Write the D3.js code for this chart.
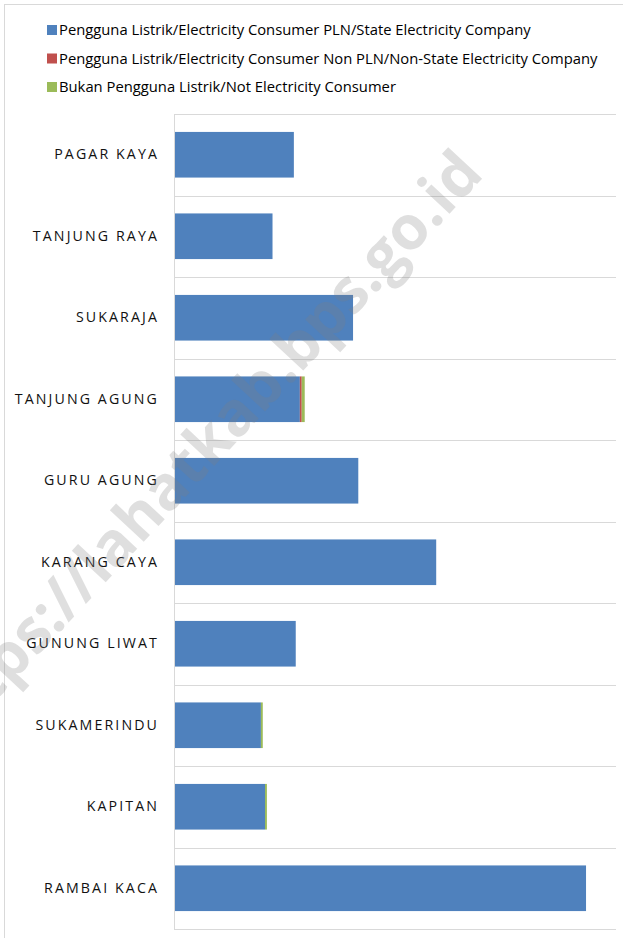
<!DOCTYPE html>
<meta charset="utf-8">
<style>
    body { margin: 0; background: #fff; }
    .axis path, .axis line { fill: none; stroke: #d9d9d9; shape-rendering: crispEdges; }
    .label { font-family: "Open Sans", sans-serif; font-size: 14.2px; letter-spacing: 2.1px; fill: #111; }
    .legend text { font-family: "Open Sans", sans-serif; font-size: 13px; fill: #000; }
</style>
<div class="chart"></div>
<script src="https://cdn.jsdelivr.net/npm/d3@7"></script>
<script>
    var villages = ['PAGAR KAYA', 'TANJUNG RAYA', 'SUKARAJA', 'TANJUNG AGUNG', 'GURU AGUNG',
                    'KARANG CAYA', 'GUNUNG LIWAT', 'SUKAMERINDU', 'KAPITAN', 'RAMBAI KACA'];
    var pln    = [320, 263, 478, 336, 492, 700, 325, 232, 243, 1100];
    var nonPln = [0, 0, 0, 5, 0, 0, 0, 0, 0, 0];
    var noElec = [0, 0, 0, 8, 0, 0, 0, 5, 5, 0];
    var seriesNames = ['Pengguna Listrik/Electricity Consumer PLN/State Electricity Company',
                       'Pengguna Listrik/Electricity Consumer Non PLN/Non-State Electricity Company',
                       'Bukan Pengguna Listrik/Not Electricity Consumer'];
    var colors = ['#4f81bd', '#c0504d', '#9bbb59'];
    var xMax = 1180;

    var W = 623, H = 938;
    var margin = {top: 114, right: 7, bottom: 9, left: 174};
    var width = W - margin.left - margin.right,
        height = H - margin.top - margin.bottom;

    var svg = d3.select('.chart').append('svg')
        .attr('width', W).attr('height', H);

    // outer chart frame
    svg.append('rect')
        .attr('x', 4.5).attr('y', 4.5)
        .attr('width', W + 20).attr('height', H + 20)
        .attr('fill', 'none').attr('stroke', '#d9d9d9');

    // legend
    var legend = svg.append('g').attr('class', 'legend');
    seriesNames.forEach(function(name, i) {
        var g = legend.append('g').attr('transform', 'translate(47,' + (30 + i * 28.5) + ')');
        g.append('rect').attr('x', 0).attr('y', -5).attr('width', 10).attr('height', 10)
            .attr('fill', colors[i]);
        g.append('text').attr('x', 12).attr('dy', '0.35em').text(name);
    });
    // fit the legend font to the original text width
    var firstText = legend.select('text').node();
    var fs = 13 * 472 / firstText.getComputedTextLength();
    legend.selectAll('text').style('font-size', fs + 'px');

    var data = villages.map(function(v, i) {
        return {village: v, pln: pln[i], nonPln: nonPln[i], noElec: noElec[i]};
    });
    var stack = d3.stack().keys(['pln', 'nonPln', 'noElec'])(data);

    var x = d3.scaleLinear().domain([0, xMax]).range([0, width]);
    var y = d3.scaleBand().domain(villages).range([0, height]).paddingInner(0.44).paddingOuter(0.22);

    var plot = svg.append('g').attr('transform', 'translate(' + margin.left + ',' + margin.top + ')');

    // horizontal gridlines between categories
    var gridY = d3.range(villages.length + 1).map(function(i) { return i * height / villages.length; });
    plot.selectAll('.grid').data(gridY).enter().append('line')
        .attr('class', 'grid')
        .attr('x1', 0).attr('x2', width)
        .attr('y1', function(d) { return Math.round(d) + 0.5; })
        .attr('y2', function(d) { return Math.round(d) + 0.5; })
        .attr('stroke', '#d9d9d9');

    plot.selectAll('.series').data(stack).enter().append('g')
        .attr('class', 'series')
        .attr('fill', function(d, i) { return colors[i]; })
        .selectAll('rect').data(function(d) { return d; }).enter().append('rect')
        .attr('x', function(d) { return x(d[0]); })
        .attr('width', function(d) { return x(d[1]) - x(d[0]); })
        .attr('y', function(d) { return y(d.data.village); })
        .attr('height', y.bandwidth());

    // category axis
    var yAxis = d3.axisLeft(y).tickSize(0).tickPadding(15);
    var ax = plot.append('g').attr('class', 'axis').call(yAxis);
    ax.select('.domain').attr('d', 'M0.5,0V' + height);
    ax.selectAll('text').attr('class', 'label').attr('font-family', null).attr('font-size', null)
        .attr('fill', null);

    // watermark
    svg.append('text')
        .attr('transform', 'translate(200,450) rotate(-47)')
        .attr('text-anchor', 'middle')
        .attr('dy', '0.35em')
        .style('font-family', '"Open Sans", sans-serif')
        .style('font-weight', 'bold')
        .style('font-size', '61px')
        .style('fill', '#808080')
        .style('fill-opacity', 0.25)
        .text('https://lahatkab.bps.go.id');
</script>
